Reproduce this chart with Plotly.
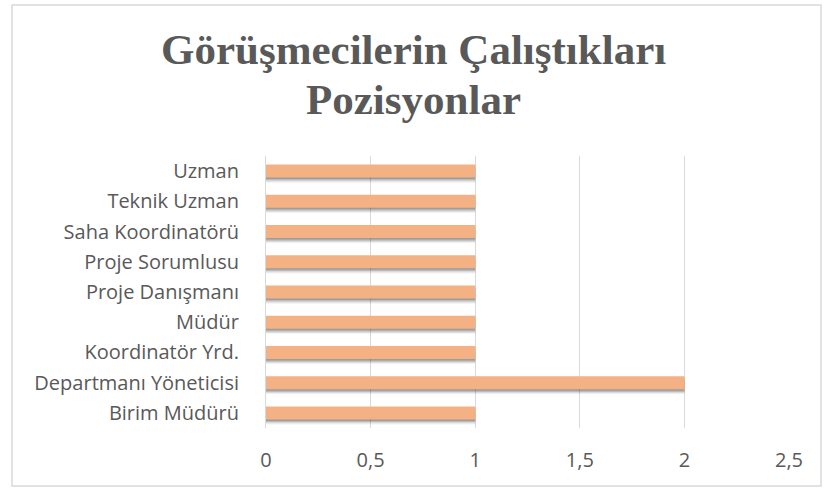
import plotly.graph_objects as go

categories = ["Birim Müdürü", "Departmanı Yöneticisi", "Koordinatör Yrd.", "Müdür",
              "Proje Danışmanı", "Proje Sorumlusu", "Saha Koordinatörü", "Teknik Uzman", "Uzman"]
values = [1, 2, 1, 1, 1, 1, 1, 1, 1]
x_tickvals = [0, 0.5, 1, 1.5, 2, 2.5]
x_ticktext = ["0", "0,5", "1", "1,5", "2", "2,5"]
title_lines = ["Görüşmecilerin Çalıştıkları", "Pozisyonlar"]

W, H = 827, 488
L, R, T, B = 266, 38, 156, 60
pw, ph = W - L - R, H - T - B

def px_x(p):
    return (p - L) / pw

def px_y(p):
    return (H - B - p) / ph

BAR_W = 0.43
TEXT = "#595959"
FONT = "Open Sans, Noto Sans, sans-serif"

fig = go.Figure()
# soft shadow
for dy, a in [(0.17, 0.07), (0.13, 0.12), (0.09, 0.18), (0.05, 0.22)]:
    fig.add_trace(go.Bar(
        y=categories, x=values, orientation="h",
        width=BAR_W, offset=-BAR_W / 2 - dy,
        marker=dict(color=f"rgba(50,50,50,{a})", line=dict(width=0)),
        hoverinfo="skip", showlegend=False,
    ))
fig.add_trace(go.Bar(
    y=categories, x=values, orientation="h",
    width=BAR_W, offset=-BAR_W / 2,
    marker=dict(color="#F4B183", line=dict(width=0)),
    showlegend=False,
))

fig.update_layout(
    width=W, height=H,
    margin=dict(l=L, r=R, t=T, b=B),
    barmode="overlay",
    paper_bgcolor="white", plot_bgcolor="white",
    xaxis=dict(range=[0, 2.5], tickvals=x_tickvals, ticktext=x_ticktext,
               showgrid=True, gridcolor="#D9D9D9", gridwidth=1,
               zeroline=False, showline=False, ticks="",
               ticklabelstandoff=18,
               tickfont=dict(family=FONT, size=20, color=TEXT), fixedrange=True),
    yaxis=dict(type="category", categoryorder="array", categoryarray=categories,
               range=[-0.5, len(categories) - 0.5],
               showgrid=False, zeroline=False,
               showline=True, linecolor="#D9D9D9", linewidth=1, ticks="",
               ticklabelstandoff=22,
               tickfont=dict(family=FONT, size=20, color=TEXT), fixedrange=True),
    shapes=[dict(type="rect", xref="paper", yref="paper",
                 x0=px_x(12), x1=px_x(821), y0=px_y(486), y1=px_y(5),
                 line=dict(color="#D9D9D9", width=1.5), fillcolor="rgba(0,0,0,0)", layer="below")],
    annotations=[
        dict(text=f"<b>{title_lines[0]}</b>", xref="paper", yref="paper",
             x=px_x(W / 2), y=px_y(49), xanchor="center", yanchor="middle", showarrow=False,
             font=dict(family="Liberation Serif, Times New Roman, serif", size=43, color=TEXT)),
        dict(text=f"<b>{title_lines[1]}</b>", xref="paper", yref="paper",
             x=px_x(W / 2), y=px_y(99), xanchor="center", yanchor="middle", showarrow=False,
             font=dict(family="Liberation Serif, Times New Roman, serif", size=43, color=TEXT)),
    ],
)

fig.write_html("out.html", config={"displayModeBar": False},
               post_script="document.body.style.margin='0';document.body.style.overflow='hidden';")
